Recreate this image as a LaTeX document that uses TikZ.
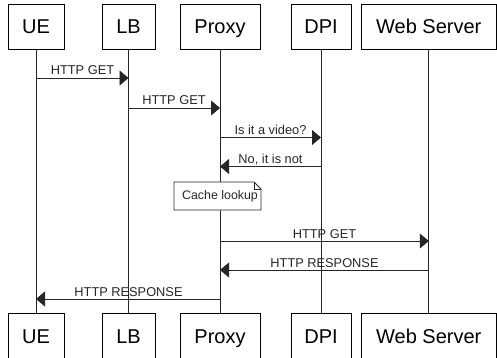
\documentclass[tikz,border=0pt]{standalone}
\usepackage{fontspec}
\setmainfont{Liberation Sans}
\usetikzlibrary{arrows.meta,calc}
\begin{document}
\begin{tikzpicture}[x=1pt,y=-1pt,
  actor/.style={draw=black,line width=0.9pt,fill=white,minimum height=45pt,inner sep=0pt,
    text height=14.3pt,text depth=0pt,
    font=\fontsize{20}{24}\selectfont,text=black},
  life/.style={draw=black!85,line width=0.9pt},
  msg/.style={draw=black!85,line width=0.9pt,-{Triangle[length=9pt,width=15pt]}},
  lbl/.style={anchor=base,inner sep=0pt,font=\fontsize{12.8}{15}\selectfont,text=black!85}]
\useasboundingbox (0,0) rectangle (497,358);
% top actors
\node[actor,minimum width=56pt] (ue) at (36,26.5) {UE};
\node[actor,minimum width=53pt] (lb) at (128.5,26.5) {LB};
\node[actor,minimum width=80pt] (px) at (220,26.5) {Proxy};
\node[actor,minimum width=60pt] (dpi) at (321,26.5) {DPI};
\node[actor,minimum width=135.5pt] (ws) at (428.75,26.5) {Web Server};
% bottom actors
\node[actor,minimum width=56pt] (ueb) at (36,336) {UE};
\node[actor,minimum width=53pt] (lbb) at (128.5,336) {LB};
\node[actor,minimum width=80pt] (pxb) at (220,336) {Proxy};
\node[actor,minimum width=60pt] (dpib) at (321,336) {DPI};
\node[actor,minimum width=135.5pt] (wsb) at (428.75,336) {Web Server};
% lifelines
\draw[life] (ue.south) -- (ueb.north);
\draw[life] (lb.south) -- (lbb.north);
\draw[life] (px.south) -- (pxb.north);
\draw[life] (dpi.south) -- (dpib.north);
\draw[life] (ws.south) -- (wsb.north);
% messages
\draw[msg] (ue.south |- 0,78) -- (lb.south |- 0,78);
\node[lbl] (l1) at (82.5,75) {HTTP GET};
\draw[msg] (lb.south |- 0,108) -- (px.south |- 0,108);
\node[lbl] (l2) at (174,105) {HTTP GET};
\draw[msg] (px.south |- 0,137.5) -- (dpi.south |- 0,137.5);
\node[lbl] (l3) at (270.5,134.5) {Is it a video?};
\draw[msg] (dpi.south |- 0,166.5) -- (px.south |- 0,166.5);
\node[lbl] (l4) at (270.5,163.5) {No, it is not};
% note
\draw[draw=black!85,line width=0.9pt,fill=white]
  (174,182) -- (254,182) -- (261,189) -- (261,210) -- (174,210) -- cycle;
\draw[draw=black!85,line width=0.9pt] (254,182) -- (254,189) -- (261,189);
\node[inner sep=0pt,font=\fontsize{12.4}{15}\selectfont,text=black!85] (cache) at (220,196) {Cache lookup};
% web server exchange
\draw[msg] (px.south |- 0,241) -- (ws.south |- 0,241);
\node[lbl] (l5) at (324.5,238) {HTTP GET};
\draw[msg] (ws.south |- 0,270) -- (px.south |- 0,270);
\node[lbl] (l6) at (324.5,267) {HTTP RESPONSE};
\draw[msg] (px.south |- 0,299) -- (ue.south |- 0,299);
\node[lbl] (l7) at (128.5,296) {HTTP RESPONSE};
\end{tikzpicture}
\end{document}
